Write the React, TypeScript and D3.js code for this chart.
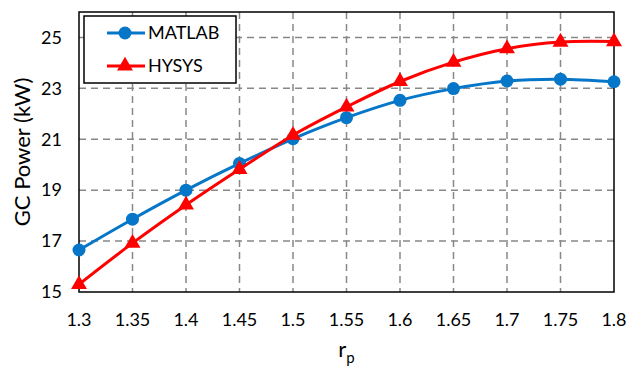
import React, { useEffect, useRef } from 'react';
import * as d3 from 'd3';

// pressure ratio values
const rp = [1.3, 1.35, 1.4, 1.45, 1.5, 1.55, 1.6, 1.65, 1.7, 1.75, 1.8];
const matlab = [16.65, 17.86, 19.0, 20.05, 21.02, 21.85, 22.53, 22.99, 23.29, 23.36, 23.26];
const hysys = [15.3, 16.92, 18.42, 19.82, 21.16, 22.27, 23.27, 24.03, 24.56, 24.82, 24.84];
const yTicks = [15, 17, 19, 21, 23, 25];

const FONT = 'Lato, "Open Sans", sans-serif';

const App = () => {
  const ref = useRef<SVGSVGElement>(null);

  useEffect(() => {
    const width = 628;
    const height = 370;
    const m = { left: 79, right: 14, top: 12, bottom: 78 };

    const svg = d3.select(ref.current);
    svg.selectAll('*').remove();

    const x = d3.scaleLinear().domain([1.3, 1.8]).range([m.left, width - m.right]);
    const y = d3.scaleLinear().domain([15, 26]).range([height - m.bottom, m.top]);

    // grid lines
    const grid = svg.append('g')
      .attr('stroke', '#888')
      .attr('stroke-width', 1.5)
      .attr('stroke-dasharray', '7,5');
    grid.selectAll('line.v')
      .data(rp.slice(1, -1))
      .enter()
      .append('line')
      .attr('x1', d => x(d))
      .attr('x2', d => x(d))
      .attr('y1', y(26))
      .attr('y2', y(15));
    grid.selectAll('line.h')
      .data(yTicks.slice(1))
      .enter()
      .append('line')
      .attr('x1', x(1.3))
      .attr('x2', x(1.8))
      .attr('y1', d => y(d))
      .attr('y2', d => y(d));

    // plot frame
    svg.append('rect')
      .attr('x', x(1.3))
      .attr('y', y(26))
      .attr('width', x(1.8) - x(1.3))
      .attr('height', y(15) - y(26))
      .attr('fill', 'none')
      .attr('stroke', '#000')
      .attr('stroke-width', 1.5);

    // tick labels
    svg.append('g')
      .selectAll('text')
      .data(yTicks)
      .enter()
      .append('text')
      .attr('x', m.left - 17)
      .attr('y', d => y(d))
      .attr('dy', '0.35em')
      .attr('text-anchor', 'end')
      .attr('font-family', FONT)
      .attr('font-size', 18)
      .text(d => d);

    svg.append('g')
      .selectAll('text')
      .data(rp)
      .enter()
      .append('text')
      .attr('x', d => x(d))
      .attr('y', y(15) + 34)
      .attr('text-anchor', 'middle')
      .attr('font-family', FONT)
      .attr('font-size', 18)
      .text(d => d);

    // axis titles
    svg.append('text')
      .attr('transform', `translate(30,${(y(15) + y(26)) / 2}) rotate(-90)`)
      .attr('text-anchor', 'middle')
      .attr('font-family', FONT)
      .attr('font-size', 22)
      .text('GC Power (kW)');

    const xt = svg.append('text')
      .attr('x', (x(1.3) + x(1.8)) / 2)
      .attr('y', 357)
      .attr('text-anchor', 'middle')
      .attr('font-family', FONT)
      .attr('font-size', 22);
    xt.append('tspan').text('r');
    xt.append('tspan').attr('font-size', 15).attr('dy', 6).text('p');

    const line = d3.line<number>()
      .x((d, i) => x(rp[i]))
      .y(d => y(d))
      .curve(d3.curveCatmullRom.alpha(0.5));

    const tri = d3.symbol().type(d3.symbolTriangle).size(110);
    const blue = '#0677C8';

    // MATLAB
    svg.append('path')
      .attr('d', line(matlab))
      .attr('fill', 'none')
      .attr('stroke', blue)
      .attr('stroke-width', 3);
    svg.append('g')
      .selectAll('circle')
      .data(matlab)
      .enter()
      .append('circle')
      .attr('cx', (d, i) => x(rp[i]))
      .attr('cy', d => y(d))
      .attr('r', 6.5)
      .attr('fill', blue);

    // HYSYS
    svg.append('path')
      .attr('d', line(hysys))
      .attr('fill', 'none')
      .attr('stroke', '#FF0000')
      .attr('stroke-width', 3);
    svg.append('g')
      .selectAll('path')
      .data(hysys)
      .enter()
      .append('path')
      .attr('d', tri)
      .attr('transform', (d, i) => `translate(${x(rp[i])},${y(d)})`)
      .attr('fill', '#FF0000');

    // legend
    const lg = svg.append('g');
    lg.append('rect')
      .attr('x', 84)
      .attr('y', 16)
      .attr('width', 152)
      .attr('height', 67)
      .attr('fill', '#fff')
      .attr('stroke', '#000')
      .attr('stroke-width', 1.5);
    const items = [
      { label: 'MATLAB', color: blue, y: 33, shape: 'circle' },
      { label: 'HYSYS', color: '#FF0000', y: 66, shape: 'tri' },
    ];
    items.forEach(it => {
      lg.append('line')
        .attr('x1', 107)
        .attr('x2', 145)
        .attr('y1', it.y)
        .attr('y2', it.y)
        .attr('stroke', it.color)
        .attr('stroke-width', 3);
      if (it.shape === 'circle') {
        lg.append('circle').attr('cx', 125).attr('cy', it.y).attr('r', 6.5).attr('fill', it.color);
      } else {
        lg.append('path').attr('d', tri).attr('transform', `translate(125,${it.y})`).attr('fill', it.color);
      }
      lg.append('text')
        .attr('x', 148)
        .attr('y', it.y)
        .attr('dy', '0.35em')
        .attr('font-family', FONT)
        .attr('font-size', 18)
        .text(it.label);
    });
  }, []);

  return (
    <svg ref={ref} width={628} height={370} style={{ position: 'absolute', left: 0, top: 0, background: '#fff' }} />
  );
};

export default App;
